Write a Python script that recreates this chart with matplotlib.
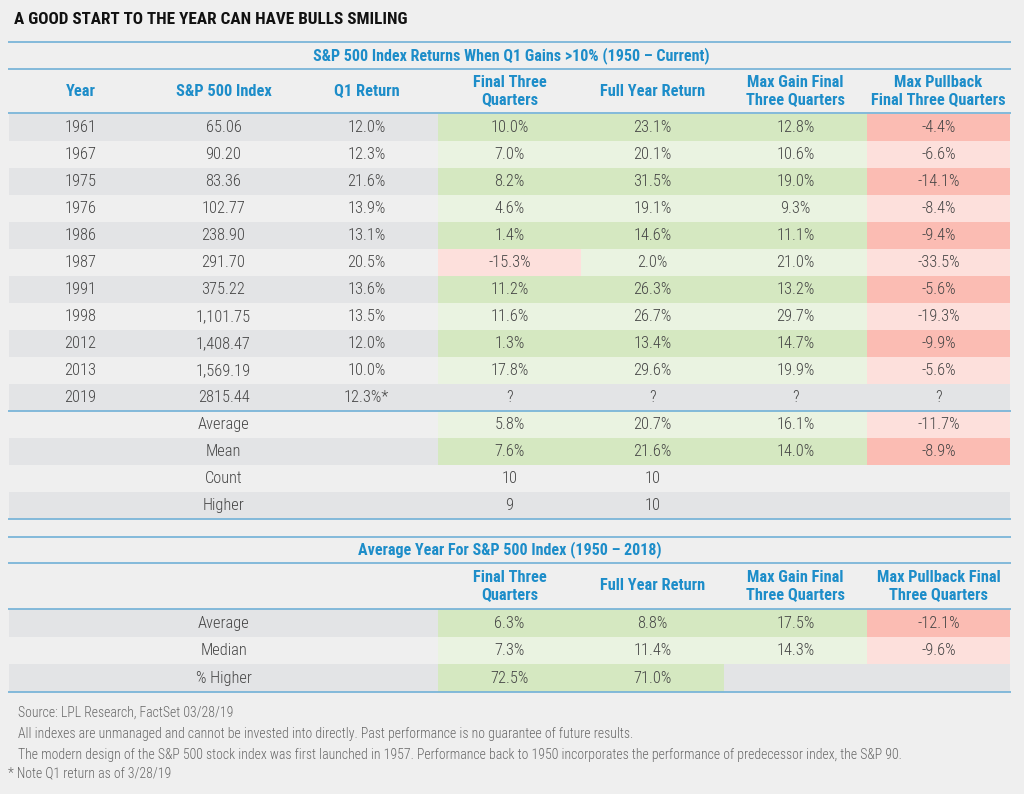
import matplotlib
matplotlib.use("Agg")
import matplotlib.pyplot as plt
from matplotlib.patches import Rectangle
from matplotlib import font_manager as fm

# ---------------- data ----------------
years = ['1961', '1967', '1975', '1976', '1986', '1987', '1991', '1998', '2012', '2013', '2019']
index_level = ['65.06', '90.20', '83.36', '102.77', '238.90', '291.70', '375.22',
               '1,101.75', '1,408.47', '1,569.19', '2815.44']
q1_return = ['12.0%', '12.3%', '21.6%', '13.9%', '13.1%', '20.5%', '13.6%', '13.5%',
             '12.0%', '10.0%', '12.3%*']
final_three = [10.0, 7.0, 8.2, 4.6, 1.4, -15.3, 11.2, 11.6, 1.3, 17.8, None]
full_year = [23.1, 20.1, 31.5, 19.1, 14.6, 2.0, 26.3, 26.7, 13.4, 29.6, None]
max_gain = [12.8, 10.6, 19.0, 9.3, 11.1, 21.0, 13.2, 29.7, 14.7, 19.9, None]
max_pullback = [-4.4, -6.6, -14.1, -8.4, -9.4, -33.5, -5.6, -19.3, -9.9, -5.6, None]

summary_labels = ['Average', 'Mean', 'Count', 'Higher']
summary_final_three = [5.8, 7.6, '10', '9']
summary_full_year = [20.7, 21.6, '10', '10']
summary_max_gain = [16.1, 14.0, '', '']
summary_max_pullback = [-11.7, -8.9, '', '']

avg_labels = ['Average', 'Median', '% Higher']
avg_final_three = [6.3, 7.3, 72.5]
avg_full_year = [8.8, 11.4, 71.0]
avg_max_gain = [17.5, 14.3, '']
avg_max_pullback = [-12.1, -9.6, '']

headers1 = ['Year', 'S&P 500 Index', 'Q1 Return', 'Final Three\nQuarters', 'Full Year Return',
            'Max Gain Final\nThree Quarters', 'Max Pullback\nFinal Three Quarters']
headers2 = ['', '', '', 'Final Three\nQuarters', 'Full Year Return',
            'Max Gain Final\nThree Quarters', 'Max Pullback Final\nThree Quarters']

title = 'A GOOD START TO THE YEAR CAN HAVE BULLS SMILING'
table1_title = 'S&P 500 Index Returns When Q1 Gains >10% (1950 \u2013 Current)'
table2_title = 'Average Year For S&P 500 Index (1950 \u2013 2018)'
footnotes = ['Source: LPL Research, FactSet 03/28/19',
             'All indexes are unmanaged and cannot be invested into directly. Past performance is no guarantee of future results.',
             'The modern design of the S&P 500 stock index was first launched in 1957. Performance back to 1950 incorporates the performance of predecessor index, the S&P 90.',
             '* Note Q1 return as of 3/28/19']

# ---------------- fonts ----------------
entries = fm.fontManager.ttflist
names = {f.name for f in entries}
stretch = 'normal'
if 'Roboto Condensed' in names:
    fam = 'Roboto Condensed'
elif 'Liberation Sans Narrow' in names:
    fam = 'Liberation Sans Narrow'
elif any(f.name == 'DejaVu Sans' and str(f.stretch) in ('condensed', 'semi-condensed') for f in entries):
    fam = 'DejaVu Sans'
    stretch = 'condensed'
else:
    fam = 'DejaVu Sans'
plt.rcParams['font.family'] = [fam, 'DejaVu Sans']
has_light = any(f.name == fam and (f.weight in (300, 'light')) for f in entries)
LIGHT = 'light' if has_light else 'normal'

# ---------------- colours ----------------
BG = '#efefef'
GRAY_DARK = '#e3e4e6'
GREEN_DARK = '#d5e8c1'
GREEN_LIGHT = '#eaf3e1'
RED_DARK = '#fbbcb3'
RED_LIGHT = '#fde0dc'
BLUE = '#1d8dc9'
LINE = '#7ab5d8'
TEXT = '#454545'
FOOT = '#666666'

W, H = 1024, 794
fig = plt.figure(figsize=(W / 100, H / 100), dpi=100, facecolor=BG)
ax = fig.add_axes([0, 0, 1, 1])
ax.set_xlim(0, W)
ax.set_ylim(H, 0)
ax.axis('off')
ax.set_facecolor(BG)

X0, X1 = 9, 1010
ncol = 7
cw = (X1 - X0) / ncol
RH = 27.0


def col_center(c):
    return X0 + cw * (c + 0.5)


def fmt(v):
    if v is None:
        return '?'
    if isinstance(v, str):
        return v
    return f'{v:.1f}%'


def cell_color(v, dark, col):
    if col >= 3 and isinstance(v, (int, float)) and v is not None:
        if v >= 0:
            return GREEN_DARK if dark else GREEN_LIGHT
        return RED_DARK if dark else RED_LIGHT
    return GRAY_DARK if dark else BG


def hline(y, lw=1.3, color=LINE):
    ax.plot([X0 - 1, X1 + 1], [y, y], color=color, lw=lw, solid_capstyle='butt', zorder=5)


def draw_row(top, values, dark, rh=RH):
    for c, v in enumerate(values):
        col = cell_color(v, dark, c)
        ax.add_patch(Rectangle((X0 + cw * c, top), cw, rh, facecolor=col, edgecolor='none', zorder=1))
        ax.text(col_center(c), top + rh / 2 + 0.5, fmt(v), ha='center', va='center',
                fontsize=11.8, color=TEXT, fontweight=LIGHT, fontstretch=stretch, zorder=3)


# title
ax.text(14, 20, title, ha='left', va='center', fontsize=12.3, fontweight='bold',
        color='#111111', fontstretch=stretch)

# ---------------- table 1 ----------------
hline(42)
ax.text((X0 + X1) / 2 + 2, 56, table1_title, ha='center', va='center', fontsize=11.5,
        fontweight='bold', color=BLUE, fontstretch=stretch)
hline(69)
for c, h in enumerate(headers1):
    ax.text(col_center(c), 91, h, ha='center', va='center', fontsize=11.8, fontweight='bold',
            color=BLUE, linespacing=1.12, fontstretch=stretch)
hline(113)

top = 113.5
for i in range(len(years)):
    vals = [years[i], index_level[i], q1_return[i], final_three[i], full_year[i],
            max_gain[i], max_pullback[i]]
    dark = (i % 2 == 0)
    draw_row(top + RH * i, vals, dark)
sum_top = top + RH * len(years)
hline(sum_top)
for i in range(len(summary_labels)):
    vals = ['', summary_labels[i], '', summary_final_three[i], summary_full_year[i],
            summary_max_gain[i], summary_max_pullback[i]]
    dark = (i % 2 == 1)
    draw_row(sum_top + RH * i, vals, dark)
hline(sum_top + RH * len(summary_labels))

# ---------------- table 2 ----------------
hline(537)
ax.text((X0 + X1) / 2, 550, table2_title, ha='center', va='center',
        fontsize=11.5, fontweight='bold', color=BLUE, fontstretch=stretch)
hline(563)
for c, h in enumerate(headers2):
    if h:
        ax.text(col_center(c), 586, h, ha='center', va='center', fontsize=11.8,
                fontweight='bold', color=BLUE, linespacing=1.12, fontstretch=stretch)
hline(609)
t2_top = 609
RH2 = 27.5
for i in range(len(avg_labels)):
    vals = ['', avg_labels[i], '', avg_final_three[i], avg_full_year[i],
            avg_max_gain[i], avg_max_pullback[i]]
    dark = (i % 2 == 0)
    draw_row(t2_top + RH2 * i, vals, dark, RH2)
hline(t2_top + RH2 * len(avg_labels) + 0.5)

# ---------------- footnotes ----------------
foot_pos = [(18, 713), (18, 734), (18, 755), (8, 773)]
for (x, y), t in zip(foot_pos, footnotes):
    ax.text(x, y, t, ha='left', va='center', fontsize=9.9, color=FOOT, fontweight=LIGHT,
            fontstretch=stretch)

fig.savefig('out.png', dpi=100, facecolor=BG)
